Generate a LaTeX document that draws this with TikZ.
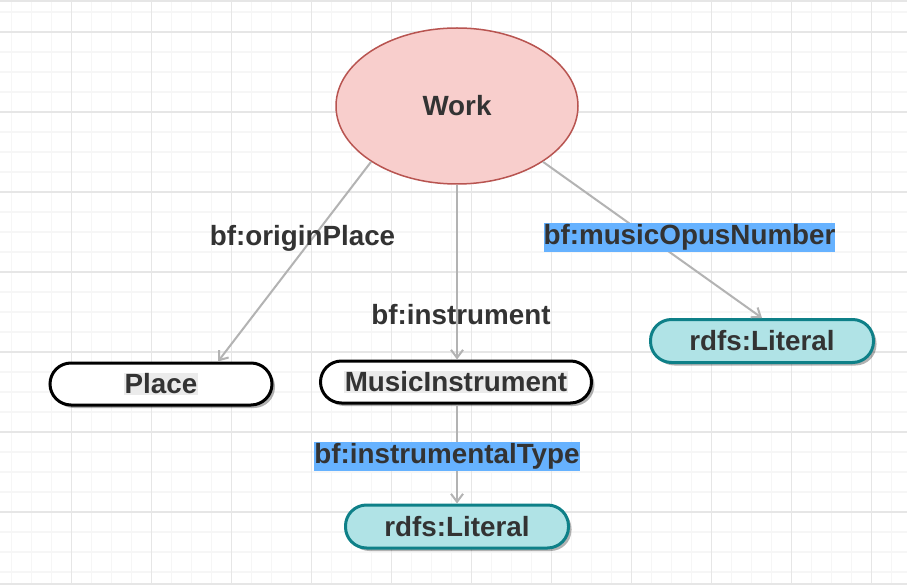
\documentclass[tikz,border=0pt]{standalone}
\usepackage{fontspec}
\setmainfont{Liberation Sans}
\usetikzlibrary{shapes.geometric,shadows,arrows.meta,calc}
\definecolor{txt}{HTML}{333333}
\definecolor{workfill}{HTML}{F8CECC}
\definecolor{workline}{HTML}{B85450}
\definecolor{litfill}{HTML}{B0E3E6}
\definecolor{litline}{HTML}{0E8088}
\definecolor{edgegray}{HTML}{B3B3B3}
\definecolor{bluebg}{HTML}{66B2FF}
\definecolor{hlbg}{HTML}{EBEBEB}
\definecolor{gridminor}{HTML}{F6F6F6}
\definecolor{gridmajor}{HTML}{E6E6E6}
\newcommand{\hltext}[1]{{\setlength{\fboxsep}{1pt}\colorbox{hlbg}{#1}}}
\tikzset{
  pill/.style={rectangle, rounded corners=21pt, line width=3pt, inner sep=0pt,
    text=txt, drop shadow={shadow xshift=3pt, shadow yshift=-3pt, fill=black, opacity=0.3}},
  classbox/.style={pill, draw=black, fill=white, minimum height=42pt},
  litbox/.style={pill, draw=litline, fill=litfill, minimum height=43pt, minimum width=223pt},
  workell/.style={ellipse, draw=workline, fill=workfill, line width=1.5pt,
    minimum width=242pt, minimum height=156pt, inner sep=0pt, text=txt},
  edge/.style={draw=edgegray, line width=2pt, -{Straight Barb[length=8pt,width=12pt]}},
  lbl/.style={text=txt, inner xsep=0pt, inner ysep=0.7pt, text height=20.7pt, text depth=6.9pt},
  bluelbl/.style={lbl, fill=bluebg},
  minorline/.style={draw=gridminor, line width=1.2pt},
  majorline/.style={draw=gridmajor, line width=1.2pt}
}
\begin{document}
\begin{tikzpicture}[x=1pt,y=-1pt,font=\fontsize{27.8}{30}\selectfont\bfseries]
\useasboundingbox (0,0) rectangle (907,585);
\fill[white] (0,0) rectangle (907,585);
% grid
\foreach \x in {11.7,31.7,...,905} \draw[minorline] (\x,0) -- (\x,585);
\foreach \y in {12,32,...,584} \draw[minorline] (0,\y) -- (907,\y);
\foreach \x in {71.7,151.7,...,905} \draw[majorline] (\x,0) -- (\x,585);
\foreach \y in {32,112,...,584} \draw[majorline] (0,\y) -- (907,\y);
\draw[majorline] (0,1) -- (907,1);
\draw[majorline] (0,584) -- (907,584);
% nodes
\node[workell] (W) at (457,106) {\raisebox{-1pt}{Work}};
\node[classbox, minimum width=222pt] (P) at (161,384) {\hltext{Place}};
\node[classbox, minimum width=271pt] (MI) at (456,382) {\hltext{MusicInstrument}};
\node[litbox] (L1) at (457,526.5) {rdfs:Literal};
\node[litbox] (L2) at (762,341) {rdfs:Literal};
% edges
\draw[edge] (W.213.5) -- ([xshift=57pt]P.north);
\draw[edge] (W.south) -- (W.south |- MI.north);
\draw[edge] (W.327.9) -- (L2.north);
\draw[edge] (MI.south -| L1.north) -- (L1.north);
% labels
\node[lbl] (lop) at (302.5,239) {bf:originPlace};
\node[lbl] (lin) at (461,318) {bf:instrument};
\node[bluelbl] (lmo) at (689.5,237.5) {bf:musicOpusNumber};
\node[bluelbl] (lit) at (447,456.5) {bf:instrumentalType};
\end{tikzpicture}
\end{document}
